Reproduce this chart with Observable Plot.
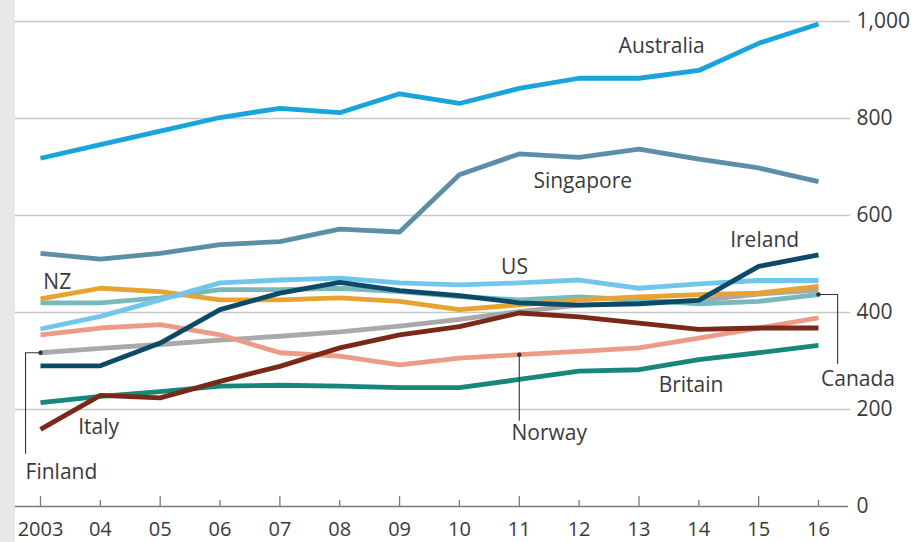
<!DOCTYPE html>
<html><head><meta charset="utf-8">
<script src="https://cdn.jsdelivr.net/npm/d3@7"></script>
<script src="https://cdn.jsdelivr.net/npm/@observablehq/plot@0.6"></script>
<style>
body{margin:0;background:#fff;}
#chart{width:918px;height:542px;background:linear-gradient(to right,#e8e8e8 0,#e8e8e8 15px,#fff 15px);}
</style></head><body><div id="chart"></div>
<script>
const years = [2003, 2004, 2005, 2006, 2007, 2008, 2009, 2010, 2011, 2012, 2013, 2014, 2015, 2016];
const yTicks = [0, 200, 400, 600, 800, 1000];

const finland   = [317, 326, 334, 343, 351, 360, 372, 386, 402, 415, 420, 425, 438, 446];
const britain   = [214, 227, 237, 248, 250, 248, 245, 245, 262, 279, 282, 303, 317, 332];
const norway    = [354, 368, 375, 354, 317, 310, 292, 306, 313, 320, 327, 347, 368, 389];
const italy     = [159, 229, 224, 258, 289, 327, 354, 371, 399, 391, 378, 365, 368, 368];
const canada    = [420, 420, 430, 447, 447, 450, 443, 433, 426, 432, 426, 418, 423, 437];
const nz        = [428, 450, 443, 426, 426, 430, 423, 406, 416, 426, 432, 437, 440, 454];
const us        = [366, 392, 426, 461, 467, 471, 461, 457, 461, 467, 450, 459, 466, 466];
const ireland   = [290, 290, 337, 406, 440, 462, 445, 435, 420, 415, 418, 425, 495, 519];
const singapore = [522, 510, 522, 540, 546, 572, 566, 684, 727, 720, 737, 716, 698, 670];
const australia = [718, 746, 774, 802, 821, 812, 851, 831, 862, 883, 883, 899, 955, 995];

const seriesNames  = ["Finland", "Britain", "Norway", "Italy", "Canada", "NZ", "US", "Ireland", "Singapore", "Australia"];
const seriesValues = [finland, britain, norway, italy, canada, nz, us, ireland, singapore, australia];
const seriesColors = ["#a9a9ab", "#17877a", "#ec9c86", "#7a2818", "#79b9bb", "#e6a330", "#72c6ee", "#0c4b68", "#5c8fa7", "#19a5dc"];

// label anchor positions (year, value)
const labelNames  = ["Australia", "Singapore", "Ireland", "US", "NZ", "Britain", "Canada", "Norway", "Italy", "Finland"];
const labelYears  = [2013.38, 2012.06, 2015.10, 2010.92, 2003.28, 2013.87, 2016.66, 2011.50, 2003.97, 2003.35];
const labelValues = [948, 670, 548, 494, 463, 250, 263, 150, 164, 70];

// leader lines: Finland, Norway, Canada
const leaderId     = ["fi", "fi", "fi", "no", "no", "ca", "ca", "ca"];
const leaderYears  = [2003, 2002.75, 2002.75, 2011, 2011, 2016, 2016.32, 2016.32];
const leaderValues = [317, 317, 110, 313, 178, 437, 437, 295];

const data = [];
seriesNames.forEach((name, i) => {
  years.forEach((yr, j) => data.push({country: name, year: yr, value: seriesValues[i][j], color: seriesColors[i]}));
});
const labels = labelNames.map((n, i) => ({name: n, year: labelYears[i], value: labelValues[i]}));
const leaders = leaderId.map((id, i) => ({id, year: leaderYears[i], value: leaderValues[i]}));
const leaderDots = leaders.filter((d, i) => i === 0 || i === 3 || i === 5);

const plotH = 542 - 21 - 36;
const chart = Plot.plot({
  width: 918, height: 542,
  marginLeft: 40, marginRight: 100, marginTop: 21, marginBottom: 36,
  style: {fontFamily: "Open Sans", fontSize: "20px", color: "#3a3a3a", background: "transparent", overflow: "visible"},
  x: {domain: [2003, 2016]},
  y: {domain: [0, 1000]},
  color: {type: "identity"},
  marks: [
    Plot.ruleY(yTicks.filter(v => v > 0), {stroke: "#c8c8c8", strokeWidth: 1.6, insetLeft: -25, insetRight: -32}),
    Plot.ruleY([0], {stroke: "#7a7a7a", strokeWidth: 1.5, insetLeft: -25, insetRight: -30}),
    Plot.ruleX(years.filter((y, i) => i % 2 === 0), {stroke: "#7a7a7a", strokeWidth: 1.3, insetTop: plotH - 10}),
    Plot.ruleX(years.filter((y, i) => i % 2 === 1), {stroke: "#7a7a7a", strokeWidth: 1.3, insetTop: plotH - 6}),
    Plot.axisX({ticks: years, tickFormat: d => d === 2003 ? "2003" : String(d).slice(2), tickSize: 0, tickPadding: 15, label: null, fontSize: 20, letterSpacing: "0.6px"}),
    Plot.axisY({anchor: "right", ticks: yTicks, tickFormat: d3.format(","), tickSize: 0, tickPadding: 38, label: null, fontSize: 21, letterSpacing: "0.8px"}),
    Plot.line(data, {x: "year", y: "value", z: "country", stroke: "color", strokeWidth: 4.8, strokeLinejoin: "round", strokeLinecap: "butt"}),
    Plot.line(leaders, {x: "year", y: "value", z: "id", stroke: "#333", strokeWidth: 1.1}),
    Plot.dot(leaderDots, {x: "year", y: "value", r: 2.2, fill: "#333"}),
    Plot.text(labels, {x: "year", y: "value", text: "name", fill: "#3a3a3a", fontSize: 21, letterSpacing: "0.8px"})
  ]
});
document.getElementById("chart").appendChild(chart);
</script>
</body></html>
